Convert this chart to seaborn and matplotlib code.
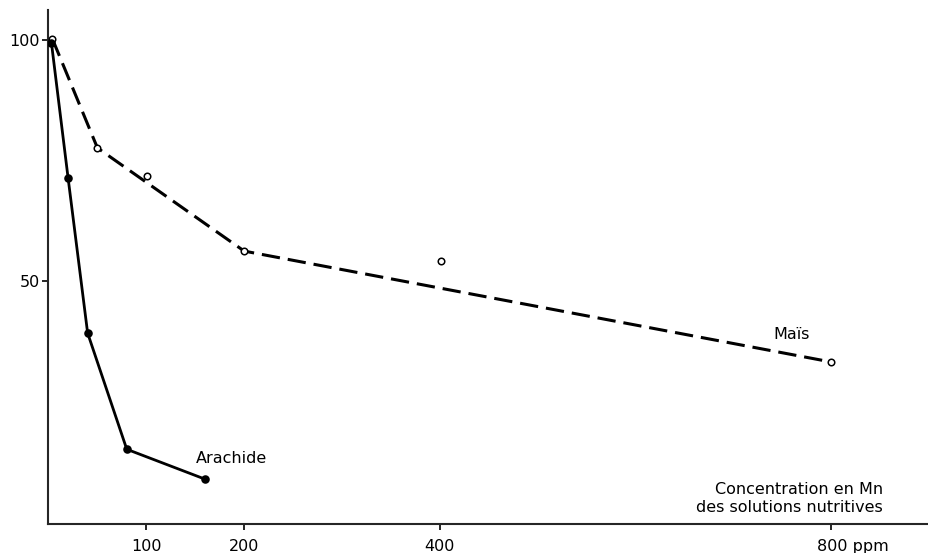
import matplotlib
matplotlib.use("Agg")
import matplotlib.pyplot as plt
from matplotlib.transforms import ScaledTranslation
import seaborn as sns
import pandas as pd

# values
arachide_x = [3, 20, 40, 80, 160]
arachide_y = [99.4, 71.4, 39.2, 15.1, 8.9]

mais_x = [4, 50, 101, 200, 401, 800]
mais_y = [100.2, 77.6, 71.8, 56.2, 54.1, 33.2]

# drawn trend for Mais (smoothed, not through every point)
mais_curve_x = [4, 50, 200, 800]
mais_curve_y = [100.2, 77.6, 56.2, 33.2]

x_ticks = [100, 200, 400, 800]
x_labels = ["100", "200", "400", "800 ppm"]
y_ticks = [50, 100]
y_labels = ["50", "100"]

sns.set_style("ticks")
plt.rcParams['font.family'] = ['DejaVu Sans']
plt.rcParams['text.color'] = 'black'

arachide = pd.DataFrame({'x': arachide_x, 'y': arachide_y})
mais = pd.DataFrame({'x': mais_x, 'y': mais_y})
mais_curve = pd.DataFrame({'x': mais_curve_x, 'y': mais_curve_y})

fig = plt.figure(figsize=(9.29, 5.53), dpi=100)
ax = fig.add_axes([48.5 / 929, 1 - 524 / 553, 1 - 48.5 / 929, 514 / 553])

sns.lineplot(data=mais_curve, x='x', y='y', ax=ax, color='black', lw=2.2,
             zorder=2).lines[-1].set_dashes((6.0, 2.6))
sns.lineplot(data=arachide, x='x', y='y', ax=ax, color='black', lw=2.0, zorder=2)
sns.scatterplot(data=mais, x='x', y='y', ax=ax, s=22, facecolor='white',
                edgecolor='black', linewidth=1.1, zorder=3)
sns.scatterplot(data=arachide, x='x', y='y', ax=ax, s=38, color='black',
                edgecolor='black', linewidth=0, zorder=4)

ax.set_xlim(0, 900)
ax.set_ylim(-0.4, 106.2)
ax.set_xticks(x_ticks)
ax.set_xticklabels(x_labels)
ax.set_yticks(y_ticks)
ax.set_yticklabels(y_labels)
ax.set_xlabel("")
ax.set_ylabel("")

sns.despine(ax=ax)
for side in ['left', 'bottom']:
    ax.spines[side].set_linewidth(1.5)
ax.tick_params(axis='both', direction='out', length=4, width=1.2,
               labelsize=11.5, colors='black')
ax.tick_params(axis='x', pad=7)
ax.tick_params(axis='y', pad=2)

# shift "800 ppm" so that the number sits under its tick
last = ax.get_xticklabels()[-1]
last.set_transform(last.get_transform() + ScaledTranslation(22 / 100, 0, fig.dpi_scale_trans))

ax.text(187, 13.1, "Arachide", fontsize=11.5, ha='center', va='center')
ax.text(760, 38.8, "Maïs", fontsize=11.5, ha='center', va='center')
ax.text(853, 4.8, "Concentration en Mn\ndes solutions nutritives", fontsize=11.5,
        ha='right', va='center', linespacing=1.25)

fig.savefig("out.png", dpi=100)
